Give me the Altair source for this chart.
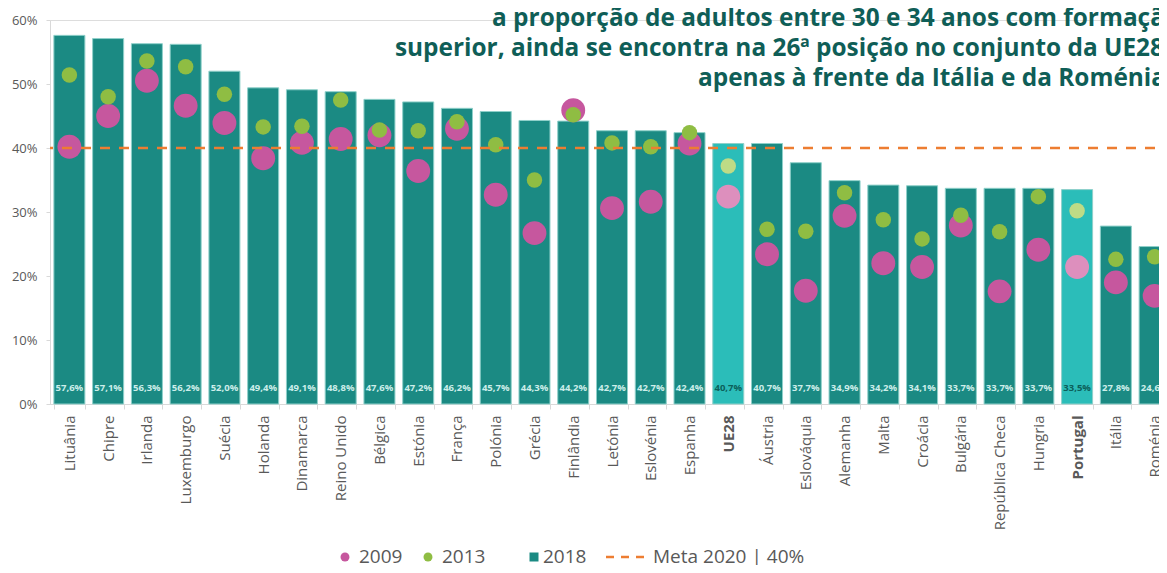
import altair as alt
import pandas as pd

countries = ["Lituânia", "Chipre", "Irlanda", "Luxemburgo", "Suécia", "Holanda", "Dinamarca",
             "Reino Unido", "Bélgica", "Estónia", "França", "Polónia", "Grécia", "Finlândia",
             "Letónia", "Eslovénia", "Espanha", "UE28", "Áustria", "Eslováquia", "Alemanha",
             "Malta", "Croácia", "Bulgária", "República Checa", "Hungria", "Portugal", "Itália",
             "Roménia"]
v2018 = [57.6, 57.1, 56.3, 56.2, 52.0, 49.4, 49.1, 48.8, 47.6, 47.2, 46.2, 45.7, 44.3, 44.2,
         42.7, 42.7, 42.4, 40.7, 40.7, 37.7, 34.9, 34.2, 34.1, 33.7, 33.7, 33.7, 33.5, 27.8, 24.6]
v2013 = [51.4, 48.0, 53.6, 52.7, 48.4, 43.3, 43.4, 47.5, 42.8, 42.7, 44.1, 40.5, 35.0, 45.2,
         40.8, 40.2, 42.4, 37.2, 27.3, 27.0, 33.0, 28.8, 25.8, 29.5, 26.9, 32.4, 30.2, 22.6, 23.0]
v2009 = [40.2, 45.0, 50.5, 46.6, 43.9, 38.4, 40.8, 41.4, 42.0, 36.4, 43.0, 32.7, 26.7, 45.9,
         30.6, 31.6, 40.7, 32.4, 23.4, 17.7, 29.4, 22.0, 21.4, 27.9, 17.6, 24.1, 21.4, 19.0, 16.9]
highlighted = ["UE28", "Portugal"]
meta = [40]
y_ticks = [0, 10, 20, 30, 40, 50, 60]
title_lines = ["a proporção de adultos entre 30 e 34 anos com formação",
               "superior, ainda se encontra na 26ª posição no conjunto da UE28",
               "apenas à frente da Itália e da Roménia"]
legend_labels = ["2009", "2013", "2018", "Meta 2020 | 40%"]

df = pd.DataFrame({"country": countries, "v2018": v2018, "v2013": v2013, "v2009": v2009})
df["grp"] = ["h" if c in highlighted else "n" for c in countries]
df["lab"] = [f"{v:.1f}".replace(".", ",") + "%" for v in v2018]

FONT = "Open Sans"
GRAY = "#595959"
W, H = 1124, 384

is_h = alt.datum.grp == "h"

x_enc = alt.X("country:N", sort=countries,
              scale=alt.Scale(paddingInner=0.2, paddingOuter=0.1),
              axis=alt.Axis(title=None, labelAngle=-90, labelFontSize=15, labelFont=FONT,
                            labelColor=GRAY, labelPadding=6, tickBand="extent", tickSize=5,
                            tickColor="#d9d9d9", domainColor="#d9d9d9",
                            labelFontWeight=alt.ExprRef(expr="datum.value == 'UE28' || datum.value == 'Portugal' ? 'bold' : 'normal'")))
y_scale = alt.Scale(domain=[0, 60], nice=False)

base = alt.Chart(df)

bars = base.mark_bar(stroke="#8fd0ca", strokeWidth=1).encode(
    x=x_enc,
    y=alt.Y("v2018:Q", scale=y_scale,
            axis=alt.Axis(title=None, values=y_ticks, labelExpr="datum.value + '%'",
                          labelFontSize=13, labelFont=FONT, labelColor=GRAY, grid=False,
                          tickSize=4, labelPadding=9, tickColor="#d9d9d9", domainColor="#d9d9d9",
                          minExtent=37, maxExtent=37)),
    color=alt.condition(is_h, alt.value("#2bbdb9"), alt.value("#1b8a83")),
)

bar_labels = base.mark_text(font=FONT, fontSize=9.5, fontWeight="bold").encode(
    x=alt.X("country:N", sort=countries),
    y=alt.datum(2.5),
    text="lab:N",
    color=alt.condition(is_h, alt.value("#0c5f5a"), alt.value("#cdeeea")),
)

c2009 = base.mark_circle(size=570, opacity=1).encode(
    x=alt.X("country:N", sort=countries),
    y="v2009:Q",
    color=alt.condition(is_h, alt.value("#dd8fbd"), alt.value("#c6579e")),
)
c2013 = base.mark_circle(size=240, opacity=1).encode(
    x=alt.X("country:N", sort=countries),
    y="v2013:Q",
    color=alt.condition(is_h, alt.value("#bedb86"), alt.value("#8fbd43")),
)

rule = alt.Chart(pd.DataFrame({"m": meta})).mark_rule(
    color="#ed7d31", strokeWidth=2.5, strokeDash=[10, 9]).encode(y="m:Q")

one = pd.DataFrame({"k": [0]})
TITLE_COLOR = "#0f5e57"
title_pos = [(1130, 6), (1114, 36), (1116, 66)]
titles = [
    alt.Chart(one).mark_text(text=t, align="right", baseline="alphabetic", font=FONT,
                             fontSize=24.4, fontWeight="bold", color=TITLE_COLOR)
    .encode(x=alt.value(px), y=alt.value(py))
    for t, (px, py) in zip(title_lines, title_pos)
]

LY = 537
leg = [
    alt.Chart(one).mark_circle(size=80, opacity=1, color="#c6579e").encode(x=alt.value(295), y=alt.value(LY)),
    alt.Chart(one).mark_circle(size=80, opacity=1, color="#8fbd43").encode(x=alt.value(378), y=alt.value(LY)),
    alt.Chart(one).mark_square(size=81, opacity=1, color="#1b8a83").encode(x=alt.value(484), y=alt.value(LY)),
    alt.Chart(one).mark_rule(color="#ed7d31", strokeWidth=2.5, strokeDash=[8, 7]).encode(
        x=alt.value(556), x2=alt.value(594), y=alt.value(LY)),
]
for t, px in zip(legend_labels, [309, 392, 493, 603]):
    leg.append(alt.Chart(one).mark_text(text=t, align="left", baseline="middle", font=FONT,
                                        fontSize=19, color=GRAY)
               .encode(x=alt.value(px), y=alt.value(LY)))

chart = alt.layer(bars, c2009, c2013, bar_labels, rule, *titles, *leg).properties(
    width=W, height=H,
    autosize=alt.AutoSizeParams(type="none"),
    padding={"left": 42, "top": 12, "right": -15, "bottom": 161},
).configure_view(stroke=None).configure(background="white")

chart.save("out.html", embed_options={"renderer": "svg", "actions": False})
